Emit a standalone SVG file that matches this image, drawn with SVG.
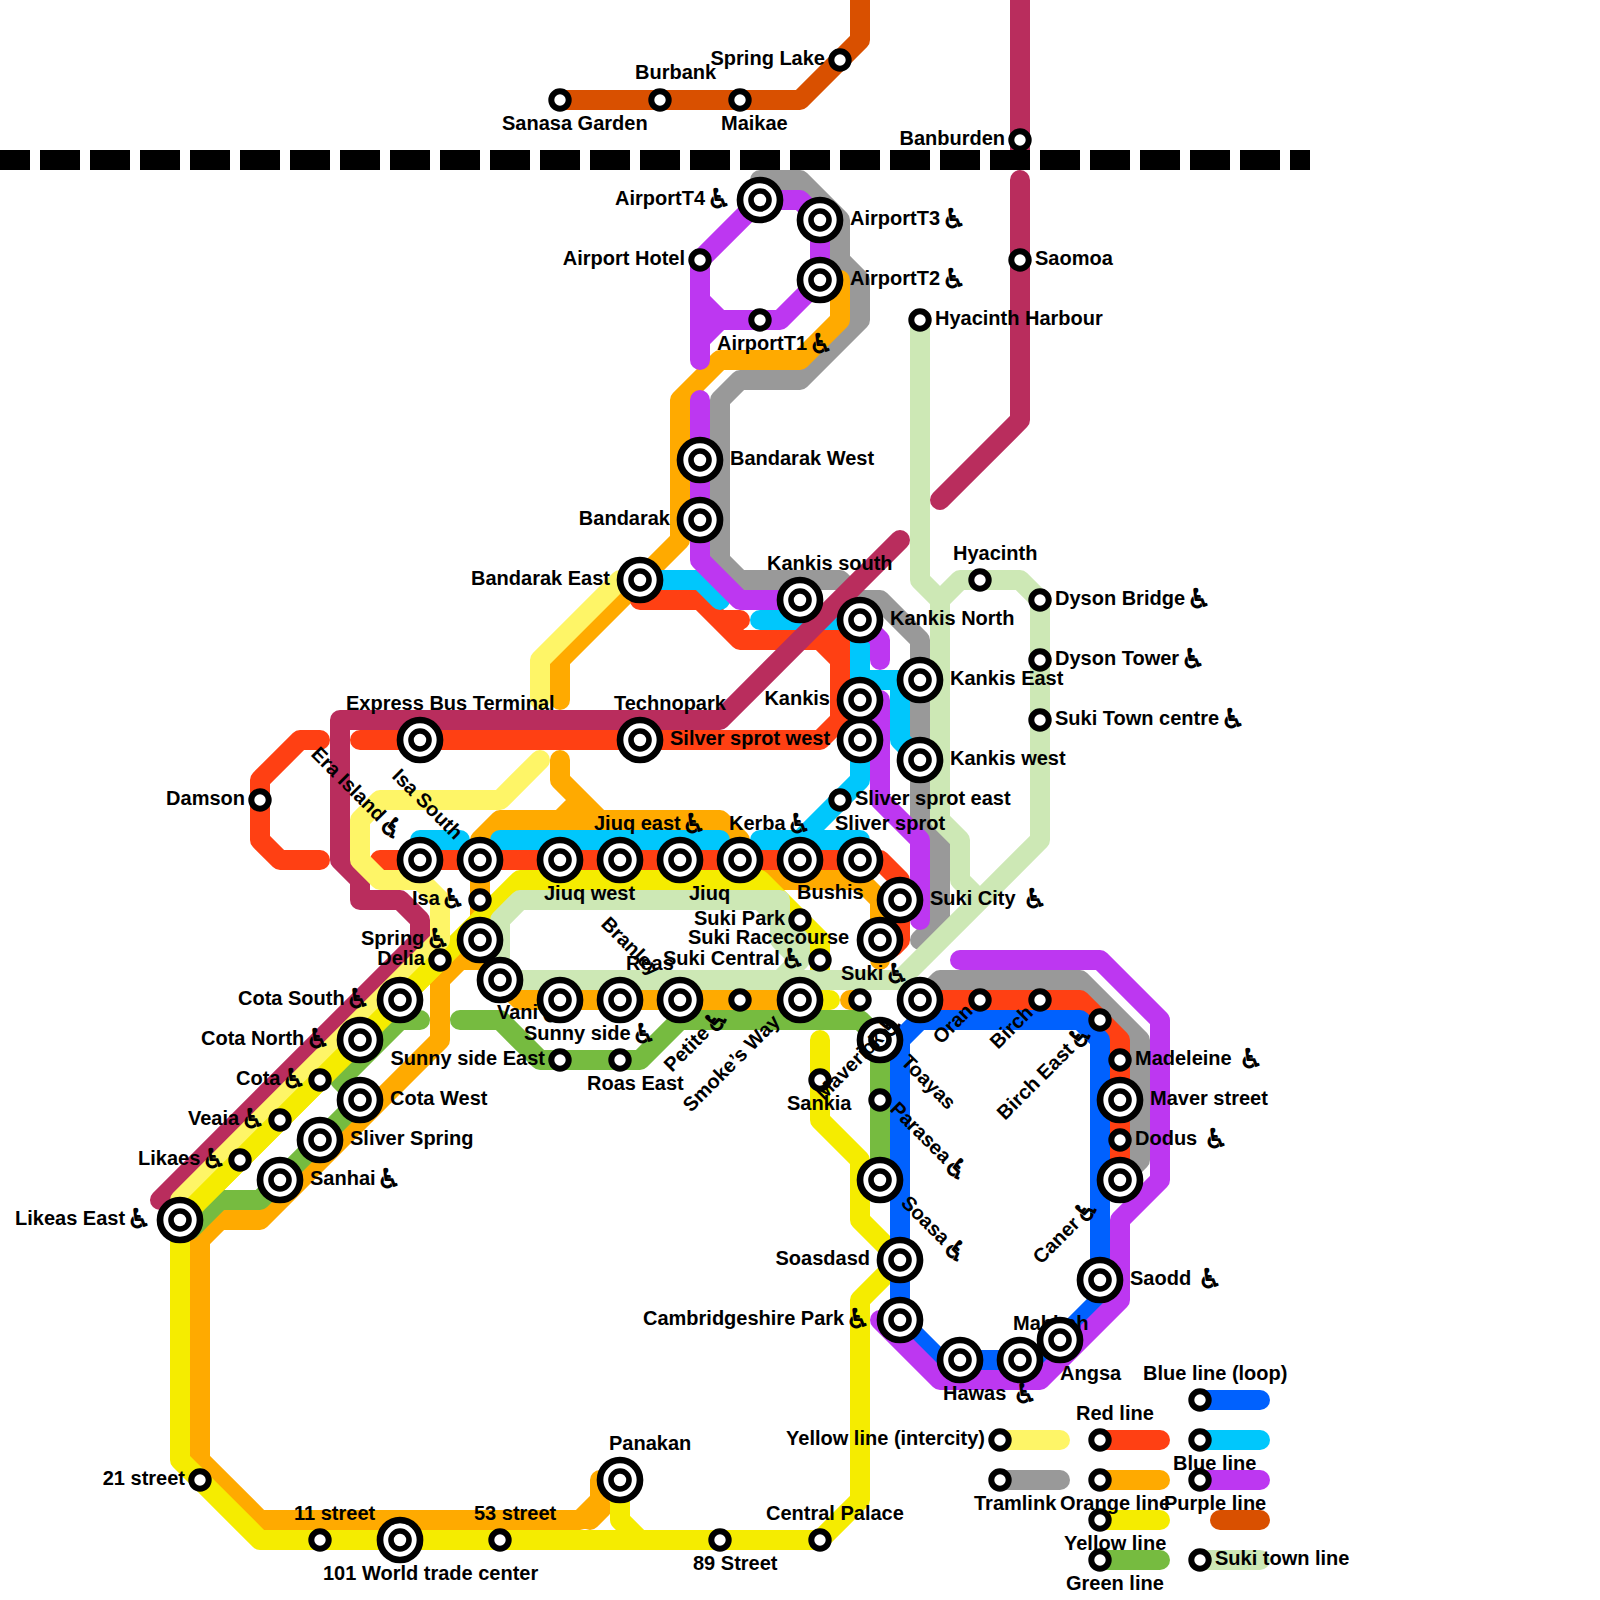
<svg xmlns="http://www.w3.org/2000/svg" width="1600" height="1600" viewBox="0 0 1600 1600">
<style>
.l{fill:none;stroke-width:20;stroke-linecap:round;stroke-linejoin:round}
.gray{stroke:#999999}.orange{stroke:#FFAA00}.red{stroke:#FF4013}.cyan{stroke:#00C7FC}.yellow{stroke:#F5EC00}.ly{stroke:#FEF567}.lg{stroke:#CDE8B5}.green{stroke:#76BB40}.blue{stroke:#0061FE}.purple{stroke:#BD37F1}.burg{stroke:#B92D5D}.dor{stroke:#D95000}
text{font-family:"Liberation Sans",sans-serif;font-weight:700;font-size:20px;fill:#000}
.e{text-anchor:end}
.w{font-size:27px}
</style>
<defs>
<g id="big"><circle r="20" fill="#fff" stroke="#000" stroke-width="6.7"/><circle r="9" fill="#fff" stroke="#000" stroke-width="5.6"/></g>
<g id="small"><circle r="8.7" fill="#fff" stroke="#000" stroke-width="6"/></g>
</defs>
<rect width="1600" height="1600" fill="#fff"/>
<g id="connectors">
<path class="l dor" d="M560 100L800 100L860 40L860 -20"/>
<path class="l burg" d="M1020 -20V160M1020 180V420L940 500"/>
<path d="M-10 160H1310" fill="none" stroke="#000" stroke-width="20" stroke-dasharray="40 10"/>
<path class="l gray" d="M760 180L800 180L840 220L840 260L860 280L860 320L800 380L740 380L720 400L720 560L740 580L840 580L860 600L880 600L920 640L920 820L940 840L940 920L920 940"/>
<path class="l gray" d="M920 1000L940 980L1080 980L1140 1040L1140 1160L1120 1180"/>
<path class="l orange" d="M840 280L840 320L800 360L720 360L680 400L680 540L560 660L560 700"/>
<path class="l orange" d="M560 760L560 780L600 820M580 800L560 820M480 940L480 840L500 820L720 820L740 840L740 860L760 880L860 880L880 900L880 960"/>
<path class="l orange" d="M480 960L460 960L440 980L440 1040L260 1220L220 1220L200 1240L200 1460L260 1520L580 1520L600 1500L600 1480L620 1480M590 1520L602 1508"/>
<path class="l orange" d="M500 980L520 1000L800 1000M850 1000L860 1000"/>
<path class="l red" d="M320 740L300 740L260 780L260 840L280 860L320 860"/>
<path class="l red" d="M360 740L820 740L840 720L840 660L820 640L740 640L700 600L640 600M720 620L740 620M820 640L840 640L840 660"/>
<path class="l red" d="M380 860L880 860L900 880L900 940L893 947"/>
<path class="l red" d="M920 1000L1080 1000L1120 1040L1120 1180"/>
<path class="l cyan" d="M640 580L700 580L720 600M760 620L860 620M860 620L860 780L800 840M860 680L900 680L900 740L920 760M420 840L460 840M500 840L720 840M760 840L860 840"/>
<path class="l yellow" d="M180 1220L180 1460L260 1540L820 1540L860 1500L860 1300L900 1260L860 1220L860 1160L820 1120L820 1040"/>
<path class="l yellow" d="M620 1480L620 1520L640 1540"/>
<path class="l yellow" d="M180 1220L520 880L760 880L820 940L820 1000L830 1000M800 1000L820 1000"/>
<path class="l lg" d="M920 320L920 580L940 600L940 820L960 840L960 880L980 900M940 600L960 580L1020 580L1040 600L1040 840L900 980L520 980L500 980L500 920L520 900L780 900L780 940L800 960L780 980M760 900L800 940L800 960"/>
<path class="l green" d="M190 1230L220 1200L260 1200L360 1100L340 1080L400 1020L420 1020"/>
<path class="l green" d="M460 1020L500 1020L540 1060L640 1060L680 1020L860 1020L880 1040L880 1180"/>
<path class="l blue" d="M920 1020L1080 1020L1100 1040L1100 1300L1040 1360L940 1360L900 1320L900 1040Z"/>
<path class="l purple" d="M700 360L700 260L760 200L800 200L820 220L820 280L780 320L720 320L700 300M720 320L700 340"/>
<path class="l purple" d="M700 400L700 560L740 600L810 600"/>
<path class="l purple" d="M860 620L880 640L880 660M880 700L880 800L920 840L920 920"/>
<path class="l purple" d="M960 960L1100 960L1160 1020L1160 1180L1120 1220L1120 1300L1040 1380L940 1380L880 1320"/>
<path class="l burg" d="M160 1200L420 940L420 920L400 900L360 900L360 880L340 860L340 720L720 720L900 540"/>
<path class="l ly" d="M180 1200L440 940L440 900L420 880L380 880L360 860L360 820L380 800L500 800L540 760"/>
<path class="l ly" d="M540 700L540 660L620 580L640 580"/>
<path class="l yellow" d="M180 1220L440 960"/>
<path class="l ly" d="M1000 1440H1060"/><path class="l gray" d="M1000 1480H1060"/>
<path class="l red" d="M1100 1440H1160"/><path class="l orange" d="M1100 1480H1160"/><path class="l yellow" d="M1100 1520H1160"/><path class="l green" d="M1100 1560H1160"/>
<path class="l blue" d="M1200 1400H1260"/><path class="l cyan" d="M1200 1440H1260"/><path class="l purple" d="M1200 1480H1260"/><path class="l dor" d="M1220 1520H1260"/><path class="l lg" d="M1200 1560H1260"/>
</g>
<g id="nodes">
<g id="n1"><use href="#small" x="560" y="100"/><text x="502" y="130">Sanasa Garden</text></g>
<g id="n2"><use href="#small" x="660" y="100"/><text x="635" y="79">Burbank</text></g>
<g id="n3"><use href="#small" x="740" y="100"/><text x="721" y="130">Maikae</text></g>
<g id="n4"><use href="#small" x="840" y="60"/><text class="e" x="825" y="65">Spring Lake</text></g>
<g id="n5"><use href="#small" x="1020" y="140"/><text class="e" x="1005" y="145">Banburden</text></g>
<g id="n6"><use href="#small" x="1020" y="260"/><text x="1035" y="265">Saomoa</text></g>
<g id="n7"><use href="#big" x="760" y="200"/><text x="615" y="205">AirportT4 <tspan class="w" dx="-4" dy="3">♿︎</tspan></text></g>
<g id="n8"><use href="#big" x="820" y="220"/><text x="850" y="225">AirportT3 <tspan class="w" dx="-4" dy="3">♿︎</tspan></text></g>
<g id="n9"><use href="#big" x="820" y="280"/><text x="850" y="285">AirportT2 <tspan class="w" dx="-4" dy="3">♿︎</tspan></text></g>
<g id="n10"><use href="#small" x="700" y="260"/><text class="e" x="685" y="265">Airport Hotel</text></g>
<g id="n11"><use href="#small" x="760" y="320"/><text x="717" y="350">AirportT1 <tspan class="w" dx="-4" dy="3">♿︎</tspan></text></g>
<g id="n12"><use href="#small" x="920" y="320"/><text x="935" y="325">Hyacinth Harbour</text></g>
<g id="n13"><use href="#big" x="700" y="460"/><text x="730" y="465">Bandarak West</text></g>
<g id="n14"><use href="#big" x="700" y="520"/><text class="e" x="670" y="525">Bandarak</text></g>
<g id="n15"><use href="#big" x="640" y="580"/><text class="e" x="610" y="585">Bandarak East</text></g>
<g id="n16"><use href="#big" x="800" y="600"/><text x="767" y="570">Kankis south</text></g>
<g id="n17"><use href="#big" x="860" y="620"/><text x="890" y="625">Kankis North</text></g>
<g id="n18"><use href="#big" x="920" y="680"/><text x="950" y="685">Kankis East</text></g>
<g id="n19"><use href="#big" x="860" y="700"/><text class="e" x="830" y="705">Kankis</text></g>
<g id="n20"><use href="#big" x="860" y="740"/><text x="670" y="745">Silver sprot west</text></g>
<g id="n21"><use href="#big" x="920" y="760"/><text x="950" y="765">Kankis west</text></g>
<g id="n22"><use href="#small" x="980" y="580"/><text x="953" y="560">Hyacinth</text></g>
<g id="n23"><use href="#small" x="1040" y="600"/><text x="1055" y="605">Dyson Bridge <tspan class="w" dx="-4" dy="3">♿︎</tspan></text></g>
<g id="n24"><use href="#small" x="1040" y="660"/><text x="1055" y="665">Dyson Tower <tspan class="w" dx="-4" dy="3">♿︎</tspan></text></g>
<g id="n25"><use href="#small" x="1040" y="720"/><text x="1055" y="725">Suki Town centre <tspan class="w" dx="-4" dy="3">♿︎</tspan></text></g>
<g id="n26"><use href="#big" x="420" y="740"/><text x="346" y="710">Express Bus Terminal</text></g>
<g id="n27"><use href="#big" x="640" y="740"/><text x="614" y="710">Technopark</text></g>
<g id="n28"><use href="#small" x="260" y="800"/><text class="e" x="245" y="805">Damson</text></g>
<g id="n29"><use href="#small" x="840" y="800"/><text x="855" y="805">Sliver sprot east</text></g>
<g id="n30"><use href="#big" x="420" y="860"/><text transform="rotate(45 310 755)" x="310" y="755">Era Island <tspan class="w" dx="-4" dy="3">♿︎</tspan></text></g>
<g id="n31"><use href="#big" x="480" y="860"/><text transform="rotate(45 391 777)" x="391" y="777">Isa South</text></g>
<g id="n32"><use href="#big" x="560" y="860"/><text x="544" y="900">Jiuq west</text></g>
<g id="n33"><use href="#big" x="620" y="860"/><text x="594" y="830">Jiuq east <tspan class="w" dx="-4" dy="3">♿︎</tspan></text></g>
<g id="n34"><use href="#big" x="680" y="860"/><text x="689" y="900">Jiuq</text></g>
<g id="n35"><use href="#big" x="740" y="860"/></g>
<g id="n36"><use href="#big" x="800" y="860"/><text x="729" y="830">Kerba <tspan class="w" dx="-4" dy="3">♿︎</tspan></text></g>
<g id="n37"><use href="#big" x="860" y="860"/><text x="835" y="830">Sliver sprot</text></g>
<g id="n38"><use href="#small" x="480" y="900"/><text x="412" y="905">Isa <tspan class="w" dx="-4" dy="3">♿︎</tspan></text></g>
<g id="n39"><use href="#big" x="480" y="940"/><text x="361" y="945">Spring <tspan class="w" dx="-4" dy="3">♿︎</tspan></text></g>
<g id="n40"><use href="#small" x="440" y="960"/><text class="e" x="425" y="965">Delia</text></g>
<g id="n41"><use href="#big" x="500" y="980"/><text x="497" y="1019">Vani <tspan class="w" dx="-4" dy="3">♿︎</tspan></text></g>
<g id="n42"><use href="#big" x="560" y="1000"/></g>
<g id="n43"><use href="#big" x="620" y="1000"/><text x="524" y="1040">Sunny side <tspan class="w" dx="-4" dy="3">♿︎</tspan></text></g>
<g id="n44"><use href="#big" x="680" y="1000"/><text x="626" y="970">Reas</text><text transform="rotate(45 600 925)" x="600" y="925">Branley</text></g>
<g id="n45"><use href="#small" x="740" y="1000"/><text transform="rotate(-45 672 1073)" x="672" y="1073">Petite <tspan class="w" dx="-4" dy="3">♿︎</tspan></text></g>
<g id="n46"><use href="#big" x="800" y="1000"/><text transform="rotate(-45 691 1113)" x="691" y="1113">Smoke’s Way</text></g>
<g id="n47"><use href="#small" x="800" y="920"/><text x="694" y="925">Suki Park</text></g>
<g id="n48"><use href="#small" x="820" y="960"/><text x="663" y="965">Suki Central <tspan class="w" dx="-4" dy="3">♿︎</tspan></text></g>
<g id="n49"><use href="#big" x="900" y="900"/><text x="930" y="905">Suki City&#160; <tspan class="w" dx="-4" dy="3">♿︎</tspan></text></g>
<g id="n50"><use href="#big" x="880" y="940"/><text x="797" y="899">Bushis</text><text x="688" y="944">Suki Racecourse</text></g>
<g id="n51"><use href="#small" x="860" y="1000"/><text x="841" y="980">Suki <tspan class="w" dx="-4" dy="3">♿︎</tspan></text></g>
<g id="n52"><use href="#big" x="920" y="1000"/></g>
<g id="n53"><use href="#small" x="980" y="1000"/><text transform="rotate(-45 941 1045)" x="941" y="1045">Oran</text></g>
<g id="n54"><use href="#small" x="1040" y="1000"/><text transform="rotate(-45 998 1050)" x="998" y="1050">Birch</text></g>
<g id="n55"><use href="#small" x="1100" y="1020"/><text transform="rotate(-45 1005 1121)" x="1005" y="1121">Birch East <tspan class="w" dx="-4" dy="3">♿︎</tspan></text></g>
<g id="n56"><use href="#small" x="820" y="1080"/><text x="787" y="1110">Sankia</text></g>
<g id="n57"><use href="#big" x="880" y="1040"/><text transform="rotate(-45 824 1101)" x="824" y="1101">Maverick <tspan class="w" dx="-4" dy="3">♿︎</tspan></text></g>
<g id="n58"><use href="#small" x="880" y="1100"/><text transform="rotate(45 900 1063)" x="900" y="1063">Toayas</text></g>
<g id="n59"><use href="#big" x="880" y="1180"/><text transform="rotate(45 889 1110)" x="889" y="1110">Parasea <tspan class="w" dx="-4" dy="3">♿︎</tspan></text></g>
<g id="n60"><use href="#big" x="900" y="1260"/><text class="e" x="870" y="1265">Soasdasd</text><text transform="rotate(45 900 1204)" x="900" y="1204">Soasa <tspan class="w" dx="-4" dy="3">♿︎</tspan></text></g>
<g id="n61"><use href="#big" x="900" y="1320"/><text x="643" y="1325">Cambridgeshire Park <tspan class="w" dx="-4" dy="3">♿︎</tspan></text></g>
<g id="n62"><use href="#big" x="960" y="1360"/><text x="943" y="1400">Hawas&#160; <tspan class="w" dx="-4" dy="3">♿︎</tspan></text></g>
<g id="n63"><use href="#big" x="1020" y="1360"/><text x="1013" y="1330">Mahbah</text></g>
<g id="n64"><use href="#big" x="1060" y="1340"/><text x="1060" y="1380">Angsa</text></g>
<g id="n65"><use href="#big" x="1100" y="1280"/><text x="1130" y="1285">Saodd&#160; <tspan class="w" dx="-4" dy="3">♿︎</tspan></text><text transform="rotate(-45 1041 1265)" x="1041" y="1265">Caner <tspan class="w" dx="-4" dy="3">♿︎</tspan></text></g>
<g id="n66"><use href="#big" x="1120" y="1180"/></g>
<g id="n67"><use href="#small" x="1120" y="1140"/><text x="1135" y="1145">Dodus&#160; <tspan class="w" dx="-4" dy="3">♿︎</tspan></text></g>
<g id="n68"><use href="#big" x="1120" y="1100"/><text x="1150" y="1105">Maver street</text></g>
<g id="n69"><use href="#small" x="1120" y="1060"/><text x="1135" y="1065">Madeleine&#160; <tspan class="w" dx="-4" dy="3">♿︎</tspan></text></g>
<g id="n70"><use href="#big" x="400" y="1000"/><text x="238" y="1005">Cota South <tspan class="w" dx="-4" dy="3">♿︎</tspan></text></g>
<g id="n71"><use href="#big" x="360" y="1040"/><text x="201" y="1045">Cota North <tspan class="w" dx="-4" dy="3">♿︎</tspan></text></g>
<g id="n72"><use href="#small" x="320" y="1080"/><text x="236" y="1085">Cota <tspan class="w" dx="-4" dy="3">♿︎</tspan></text></g>
<g id="n73"><use href="#big" x="360" y="1100"/><text x="390" y="1105">Cota West</text></g>
<g id="n74"><use href="#small" x="280" y="1120"/><text x="188" y="1125">Veaia <tspan class="w" dx="-4" dy="3">♿︎</tspan></text></g>
<g id="n75"><use href="#big" x="320" y="1140"/><text x="350" y="1145">Sliver Spring</text></g>
<g id="n76"><use href="#small" x="240" y="1160"/><text x="138" y="1165">Likaes <tspan class="w" dx="-4" dy="3">♿︎</tspan></text></g>
<g id="n77"><use href="#big" x="280" y="1180"/><text x="310" y="1185">Sanhai <tspan class="w" dx="-4" dy="3">♿︎</tspan></text></g>
<g id="n78"><use href="#big" x="180" y="1220"/><text x="15" y="1225">Likeas East <tspan class="w" dx="-4" dy="3">♿︎</tspan></text></g>
<g id="n79"><use href="#small" x="560" y="1060"/><text class="e" x="545" y="1065">Sunny side East</text></g>
<g id="n80"><use href="#small" x="620" y="1060"/><text x="587" y="1090">Roas East</text></g>
<g id="n81"><use href="#small" x="200" y="1480"/><text class="e" x="185" y="1485">21 street</text></g>
<g id="n82"><use href="#small" x="320" y="1540"/><text x="294" y="1520">11 street</text></g>
<g id="n83"><use href="#big" x="400" y="1540"/><text x="323" y="1580">101 World trade center</text></g>
<g id="n84"><use href="#small" x="500" y="1540"/><text x="474" y="1520">53 street</text></g>
<g id="n85"><use href="#big" x="620" y="1480"/><text x="609" y="1450">Panakan</text></g>
<g id="n86"><use href="#small" x="720" y="1540"/><text x="693" y="1570">89 Street</text></g>
<g id="n87"><use href="#small" x="820" y="1540"/><text x="766" y="1520">Central Palace</text></g>
<g id="legend">
<use href="#small" x="1000" y="1440"/><text class="e" x="985" y="1445">Yellow line (intercity)</text>
<use href="#small" x="1000" y="1480"/><text x="974" y="1510">Tramlink</text>
<use href="#small" x="1100" y="1440"/><text x="1076" y="1420">Red line</text>
<use href="#small" x="1100" y="1480"/><text x="1060" y="1510">Orange line</text>
<use href="#small" x="1100" y="1520"/><text x="1064" y="1550">Yellow line</text>
<use href="#small" x="1100" y="1560"/><text x="1066" y="1590">Green line</text>
<use href="#small" x="1200" y="1400"/><text x="1143" y="1380">Blue line (loop)</text>
<use href="#small" x="1200" y="1440"/><text x="1173" y="1470">Blue line</text>
<use href="#small" x="1200" y="1480"/><text x="1164" y="1510">Purple line</text>
<use href="#small" x="1200" y="1560"/><text x="1215" y="1565">Suki town line</text>
</g>
</g>
</svg>
